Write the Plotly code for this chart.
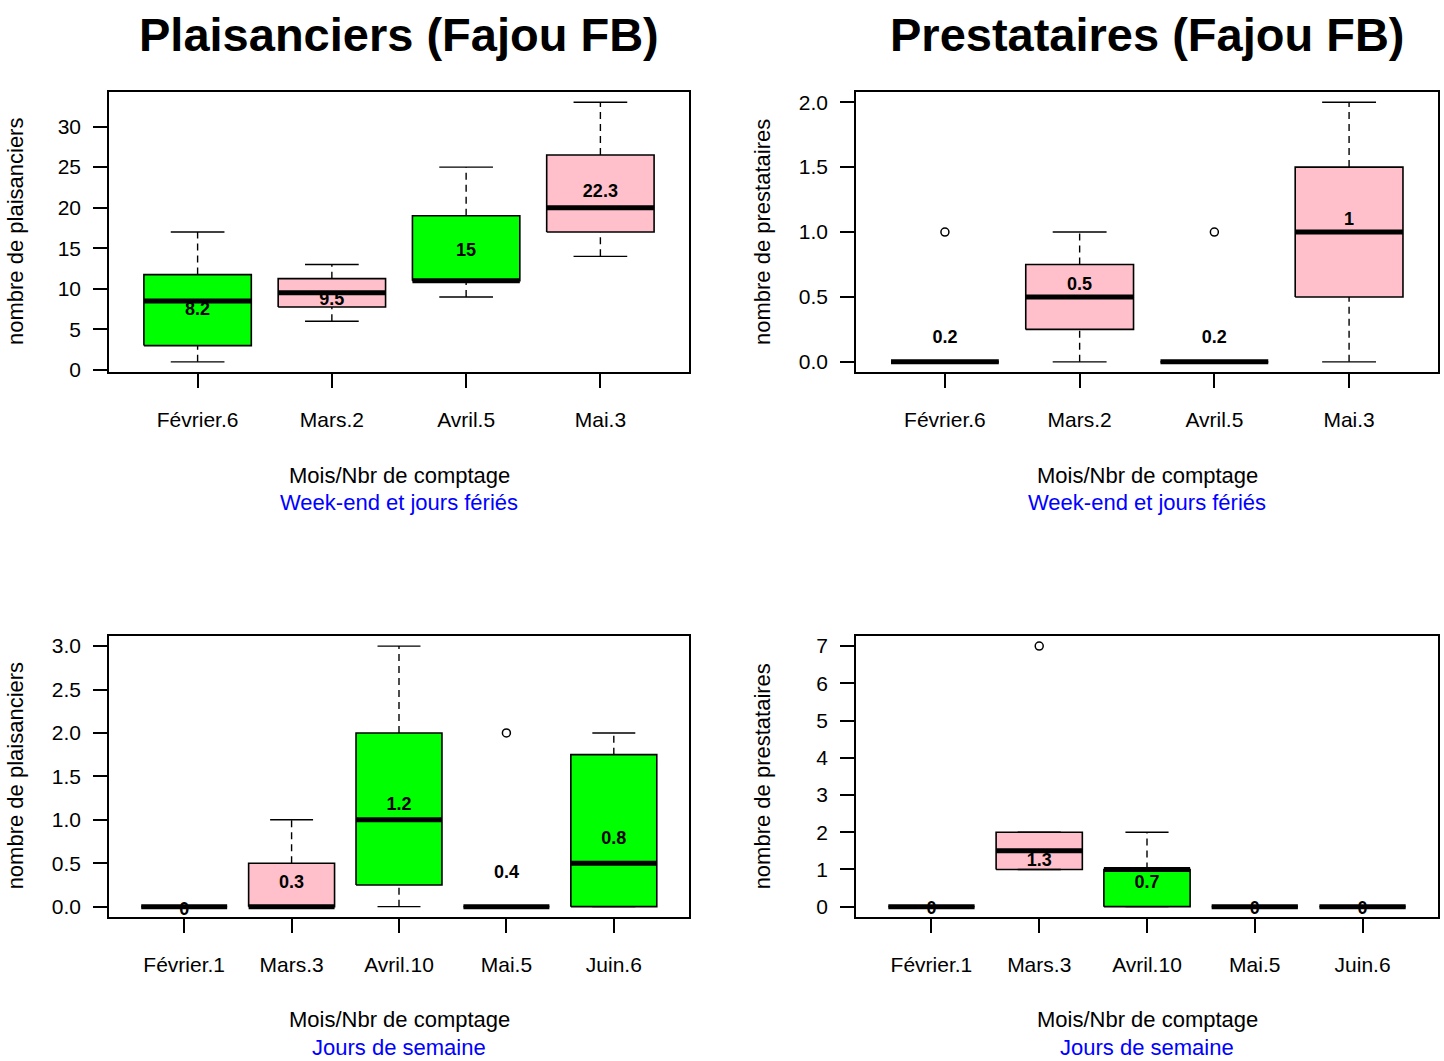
import plotly.graph_objects as go

FONT = "Liberation Sans, Arial, sans-serif"
GREEN = "#00FF00"
PINK = "#FFC0CB"
W, H = 1444, 1061
KY = 1.0074  # vertical layout stretch

# Month / number of counts, week-end & holidays vs weekdays
we_months = ["Février.6", "Mars.2", "Avril.5", "Mai.3"]
wk_months = ["Février.1", "Mars.3", "Avril.10", "Mai.5", "Juin.6"]

# Plaisanciers, week-end et jours fériés (box statistics)
plai_we_low = [1, 6, 9, 14]
plai_we_q1 = [3, 7.75, 11, 17]
plai_we_med = [8.5, 9.5, 11, 20]
plai_we_q3 = [11.75, 11.25, 19, 26.5]
plai_we_high = [17, 13, 25, 33]
plai_we_out = [[], [], [], []]
plai_we_mean = ["8.2", "9.5", "15", "22.3"]
plai_we_mean_y = [7.27, 8.6, 14.65, 21.84]
plai_we_fill = [GREEN, PINK, GREEN, PINK]

# Prestataires, week-end et jours fériés
prest_we_low = [0, 0, 0, 0]
prest_we_q1 = [0, 0.25, 0, 0.5]
prest_we_med = [0, 0.5, 0, 1]
prest_we_q3 = [0, 0.75, 0, 1.5]
prest_we_high = [0, 1, 0, 2]
prest_we_out = [[1], [], [1], []]
prest_we_mean = ["0.2", "0.5", "0.2", "1"]
prest_we_mean_y = [0.18, 0.59, 0.18, 1.09]
prest_we_fill = [PINK, PINK, PINK, PINK]

# Plaisanciers, jours de semaine
plai_wk_low = [0, 0, 0, 0, 0]
plai_wk_q1 = [0, 0, 0.25, 0, 0]
plai_wk_med = [0, 0, 1, 0, 0.5]
plai_wk_q3 = [0, 0.5, 2, 0, 1.75]
plai_wk_high = [0, 1, 3, 0, 2]
plai_wk_out = [[], [], [], [2], []]
plai_wk_mean = ["0", "0.3", "1.2", "0.4", "0.8"]
plai_wk_mean_y = [-0.04, 0.27, 1.17, 0.38, 0.77]
plai_wk_fill = [PINK, PINK, GREEN, GREEN, GREEN]

# Prestataires, jours de semaine
prest_wk_low = [0, 1, 0, 0, 0]
prest_wk_q1 = [0, 1, 0, 0, 0]
prest_wk_med = [0, 1.5, 1, 0, 0]
prest_wk_q3 = [0, 2, 1, 0, 0]
prest_wk_high = [0, 2, 2, 0, 0]
prest_wk_out = [[], [7], [], [], []]
prest_wk_mean = ["0", "1.3", "0.7", "0", "0"]
prest_wk_mean_y = [-0.09, 1.21, 0.63, -0.09, -0.09]
prest_wk_fill = [PINK, PINK, GREEN, PINK, PINK]

panels = [
    dict(cats=we_months, low=plai_we_low, q1=plai_we_q1, med=plai_we_med, q3=plai_we_q3,
         high=plai_we_high, out=plai_we_out, mean=plai_we_mean, mean_y=plai_we_mean_y,
         fill=plai_we_fill, dtick=5, fmt="d", ytitle="nombre de plaisanciers",
         sub="Week-end et jours fériés", px=(109, 689), py=(91, 372)),
    dict(cats=we_months, low=prest_we_low, q1=prest_we_q1, med=prest_we_med, q3=prest_we_q3,
         high=prest_we_high, out=prest_we_out, mean=prest_we_mean, mean_y=prest_we_mean_y,
         fill=prest_we_fill, dtick=0.5, fmt=".1f", ytitle="nombre de prestataires",
         sub="Week-end et jours fériés", px=(856, 1438), py=(91, 372)),
    dict(cats=wk_months, low=plai_wk_low, q1=plai_wk_q1, med=plai_wk_med, q3=plai_wk_q3,
         high=plai_wk_high, out=plai_wk_out, mean=plai_wk_mean, mean_y=plai_wk_mean_y,
         fill=plai_wk_fill, dtick=0.5, fmt=".1f", ytitle="nombre de plaisanciers",
         sub="Jours de semaine", px=(109, 689), py=(636, 918)),
    dict(cats=wk_months, low=prest_wk_low, q1=prest_wk_q1, med=prest_wk_med, q3=prest_wk_q3,
         high=prest_wk_high, out=prest_wk_out, mean=prest_wk_mean, mean_y=prest_wk_mean_y,
         fill=prest_wk_fill, dtick=1, fmt="d", ytitle="nombre de prestataires",
         sub="Jours de semaine", px=(856, 1438), py=(636, 918)),
]

titles = [("Plaisanciers (Fajou FB)", 0), ("Prestataires (Fajou FB)", 1)]

HALF = 0.4   # half box width (boxwex 0.8)
CAP = 0.2    # half staple width

fig = go.Figure()
annotations = []
layout_axes = {}


def pxx(v):
    return v / W


def pxy(v):
    return 1 - v * KY / H


for i, p in enumerate(panels):
    k = "" if i == 0 else str(i + 1)
    xa, ya = "x" + k, "y" + k
    n = len(p["cats"])
    pos = list(range(1, n + 1))

    # boxes
    for c, lo_q, hi_q, col in zip(pos, p["q1"], p["q3"], p["fill"]):
        fig.add_trace(go.Scatter(
            x=[c - HALF, c + HALF, c + HALF, c - HALF, c - HALF],
            y=[lo_q, lo_q, hi_q, hi_q, lo_q],
            mode="lines", fill="toself", fillcolor=col,
            line=dict(color="black", width=1.6),
            xaxis=xa, yaxis=ya, hoverinfo="skip", showlegend=False))

    # dashed whiskers
    wx, wy = [], []
    for c, lo, q1, q3, hi in zip(pos, p["low"], p["q1"], p["q3"], p["high"]):
        if hi > q3:
            wx += [c, c, None]
            wy += [q3, hi, None]
        if lo < q1:
            wx += [c, c, None]
            wy += [lo, q1, None]
    if wx:
        fig.add_trace(go.Scatter(x=wx, y=wy, mode="lines",
                                 line=dict(color="black", width=1.4, dash="7px,5px"),
                                 xaxis=xa, yaxis=ya, hoverinfo="skip", showlegend=False))

    # staples
    sx, sy = [], []
    for c, lo, hi in zip(pos, p["low"], p["high"]):
        for v in (lo, hi):
            sx += [c - CAP, c + CAP, None]
            sy += [v, v, None]
    fig.add_trace(go.Scatter(x=sx, y=sy, mode="lines",
                             line=dict(color="black", width=1.4),
                             xaxis=xa, yaxis=ya, hoverinfo="skip", showlegend=False))

    # medians
    mx, my = [], []
    for c, m in zip(pos, p["med"]):
        mx += [c - HALF, c + HALF, None]
        my += [m, m, None]
    fig.add_trace(go.Scatter(x=mx, y=my, mode="lines",
                             line=dict(color="black", width=5),
                             xaxis=xa, yaxis=ya, hoverinfo="skip", showlegend=False))

    # outliers
    ox, oy = [], []
    for c, outs in zip(pos, p["out"]):
        for v in outs:
            ox.append(c)
            oy.append(v)
    if ox:
        fig.add_trace(go.Scatter(x=ox, y=oy, mode="markers",
                                 marker=dict(symbol="circle-open", size=8,
                                             color="black", line=dict(width=1.5)),
                                 xaxis=xa, yaxis=ya, hoverinfo="skip", showlegend=False))

    # mean labels
    fig.add_trace(go.Scatter(x=pos, y=p["mean_y"], mode="text", text=p["mean"],
                             textfont=dict(family=FONT, size=18, color="black",
                                           weight="bold"),
                             xaxis=xa, yaxis=ya, hoverinfo="skip", showlegend=False))

    # scales: R style 4% padding around the data
    vals = p["low"] + p["high"] + [v for o in p["out"] for v in o]
    lo_v, hi_v = min(vals), max(vals)
    pad = 0.04 * (hi_v - lo_v)
    xpad = 0.04 * n

    dom_x = [pxx(p["px"][0]), pxx(p["px"][1])]
    dom_y = [pxy(p["py"][1]), pxy(p["py"][0])]
    axis_common = dict(showline=True, mirror=True, linecolor="black", linewidth=1.5,
                       ticks="outside", ticklen=14, tickwidth=1.5, tickcolor="black",
                       showgrid=False, zeroline=False, fixedrange=True,
                       tickfont=dict(family=FONT, size=21, color="black"))
    layout_axes["xaxis" + k] = dict(
        domain=dom_x, anchor=ya, range=[0.5 - xpad, n + 0.5 + xpad],
        tickmode="array", tickvals=pos, ticktext=p["cats"],
        ticklabelstandoff=14, **axis_common)
    layout_axes["yaxis" + k] = dict(
        domain=dom_y, anchor=xa, range=[lo_v - pad, hi_v + pad],
        tick0=0, dtick=p["dtick"], tickformat=p["fmt"],
        ticklabelstandoff=8, **axis_common)

    cx = (p["px"][0] + p["px"][1]) / 2
    bottom = p["py"][1]
    annotations.append(dict(text="Mois/Nbr de comptage", x=pxx(cx), y=pxy(bottom + 103),
                            xref="paper", yref="paper", showarrow=False,
                            xanchor="center", yanchor="middle",
                            font=dict(family=FONT, size=22, color="black")))
    annotations.append(dict(text=p["sub"], x=pxx(cx), y=pxy(bottom + 131),
                            xref="paper", yref="paper", showarrow=False,
                            xanchor="center", yanchor="middle",
                            font=dict(family=FONT, size=22, color="blue")))
    cy = (p["py"][0] + p["py"][1]) / 2
    annotations.append(dict(text=p["ytitle"], x=pxx(p["px"][0] - 94), y=pxy(cy),
                            xref="paper", yref="paper", showarrow=False, textangle=-90,
                            xanchor="center", yanchor="middle",
                            font=dict(family=FONT, size=22, color="black")))

for t, idx in titles:
    p = panels[idx]
    cx = (p["px"][0] + p["px"][1]) / 2
    annotations.append(dict(text="<b>" + t + "</b>", x=pxx(cx), y=pxy(34),
                            xref="paper", yref="paper", showarrow=False,
                            xanchor="center", yanchor="middle",
                            font=dict(family=FONT, size=47, color="black")))

fig.update_layout(
    width=W, height=H, margin=dict(l=0, r=0, t=0, b=0),
    paper_bgcolor="white", plot_bgcolor="white", showlegend=False,
    annotations=annotations, **layout_axes)

fig.write_html("out.html", config={"displayModeBar": False})
